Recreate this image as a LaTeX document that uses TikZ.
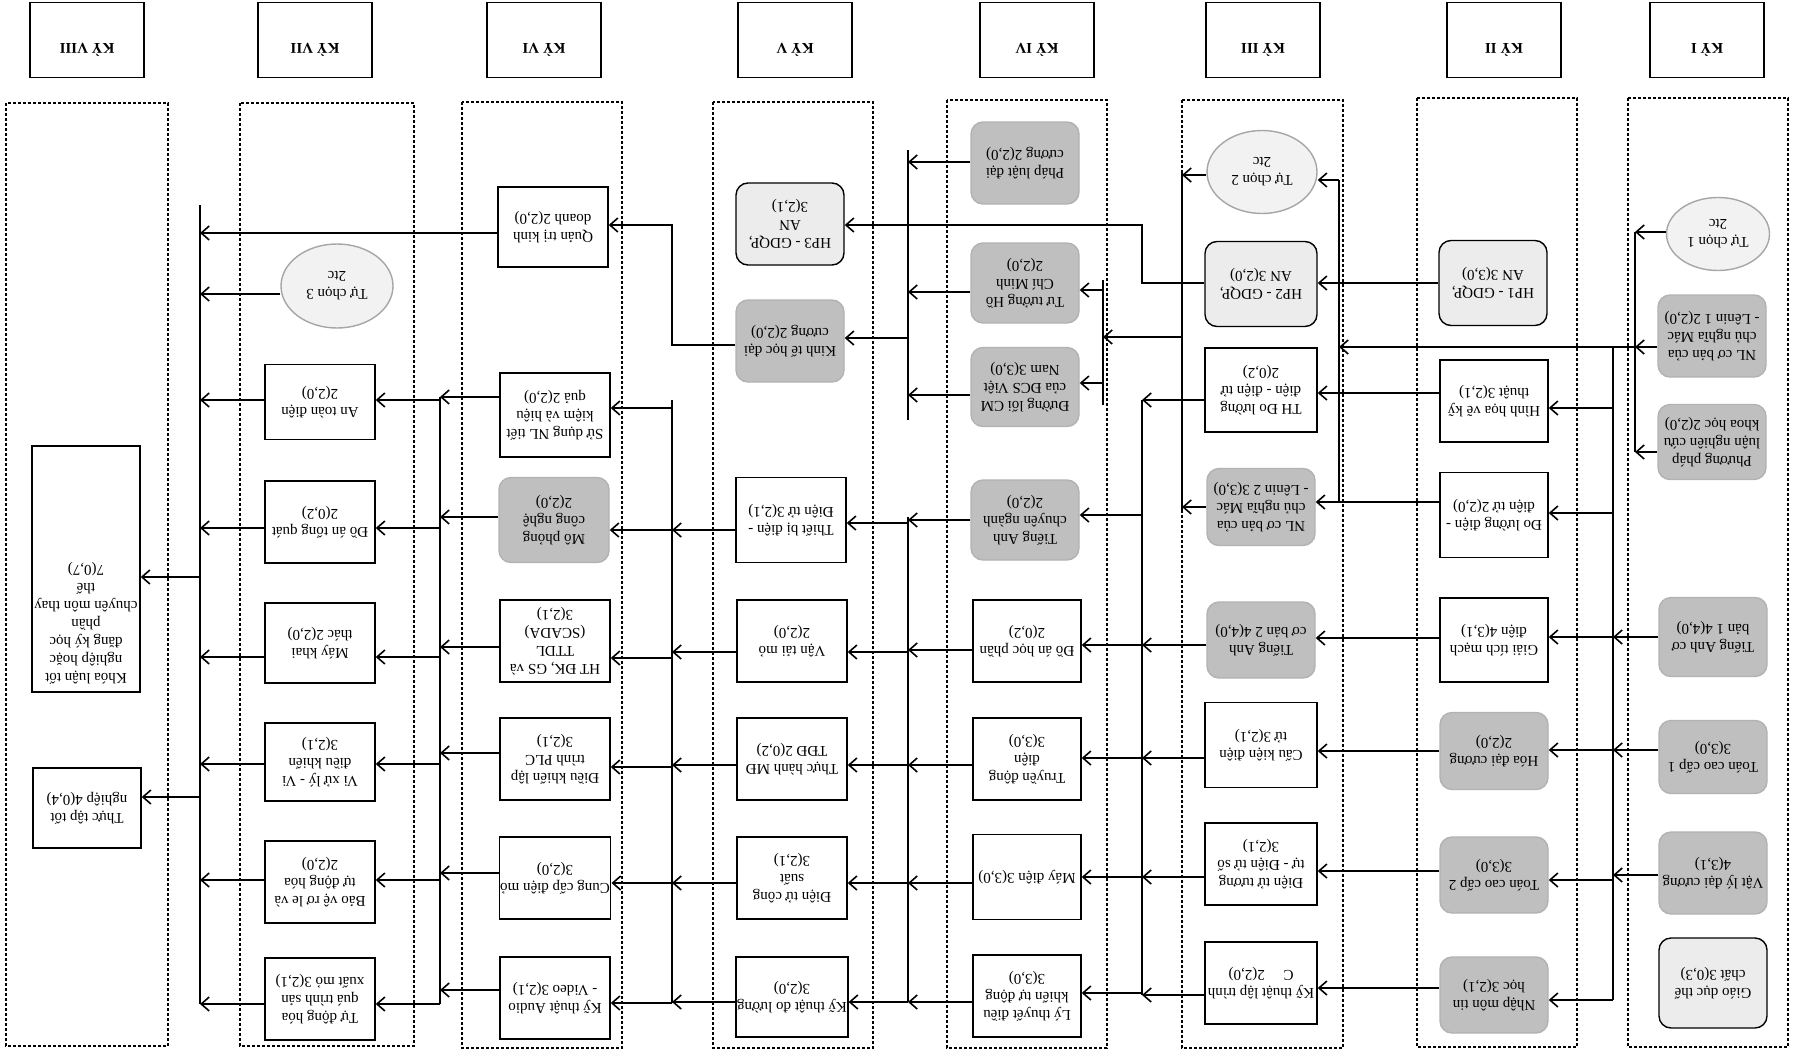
\documentclass[tikz,border=0pt]{standalone}
\usepackage{fontspec}
\setmainfont{Liberation Serif}
\usetikzlibrary{positioning, arrows.meta, shapes.geometric}

\begin{document}
\begin{tikzpicture}[
  x=0.5pt, y=-0.5pt,
  every node/.style={rotate=180, font=\fontsize{7.5}{9}\selectfont},
  course/.style={draw, line width=0.7pt, align=center, minimum width=54pt, minimum height=41pt, inner sep=0.5pt},
  plain/.style={course, fill=white},
  shaded/.style={course, draw=gray!60, fill=gray!50, rounded corners=6pt},
  light/.style={course, fill=gray!15, rounded corners=6pt},
  elective/.style={ellipse, draw=gray!70, line width=0.7pt, fill=gray!10, align=center, minimum width=54pt, minimum height=41pt, inner sep=0pt},
  term/.style={draw, line width=0.7pt, minimum width=57pt, minimum height=37.5pt, text depth=10pt, font=\bfseries\fontsize{7.5}{8}\selectfont},
  col/.style={draw, line width=0.7pt, dash pattern=on 1.5pt off 1pt},
  ln/.style={line width=0.8pt},
  arr/.style={ln, -{Straight Barb[length=4pt, width=7pt]}}
]
\useasboundingbox (0,0) rectangle (1793,1060);

% semester headings
\node[term] (h8) at (87,40) {KỲ VIII};
\node[term] (h7) at (315,40) {KỲ VII};
\node[term] (h6) at (544,40) {KỲ VI};
\node[term] (h5) at (795,40) {KỲ V};
\node[term] (h4) at (1037,40) {KỲ IV};
\node[term] (h3) at (1263,40) {KỲ III};
\node[term] (h2) at (1504,40) {KỲ II};
\node[term] (h1) at (1707,40) {KỲ I};

% semester frames
\draw[col] (6,103) rectangle (168,1046);
\draw[col] (240,103) rectangle (414,1046);
\draw[col] (462,102) rectangle (622,1048);
\draw[col] (713,102) rectangle (873,1048);
\draw[col] (947,100) rectangle (1107,1048);
\draw[col] (1182,100) rectangle (1343,1048);
\draw[col] (1417,98) rectangle (1577,1047);
\draw[col] (1628,98) rectangle (1788,1047);

% Ky I
\node[elective, minimum width=51.5pt, minimum height=36.5pt] (tc1) at (1718,234) {Tự chọn 1\\2tc};
\node[shaded] (nl1) at (1712,336) {NL cơ bản của\\chủ nghĩa Mác\\- Lênin 1 2(2,0)};
\node[shaded, minimum height=37.5pt] (ppl) at (1712,442) {Phương pháp\\luận nghiên cứu\\khoa học 2(2,0)};
\node[shaded, minimum height=39.5pt] (ta1) at (1713,637) {Tiếng Anh cơ\\bản 1 4(4,0)};
\node[shaded, minimum height=36.5pt] (toan1) at (1713,757) {Toán cao cấp 1\\3(3,0)};
\node[shaded] (vatly) at (1713,873) {Vật lý đại cương\\4(3,1)};
\node[light, minimum height=45pt] (gdtc) at (1713,983) {Giáo dục thể\\chất 3(0,3)};

% Ky II
\node[light, minimum height=42.5pt] (hp1) at (1493,283) {HP1 - GDQP,\\AN 3(3,0)};
\node[plain] (hinhhoa) at (1494,401) {Hình họa vẽ kỹ\\thuật 3(2,1)};
\node[plain, minimum height=42.5pt] (doluong) at (1494,515) {Đo lường điện -\\điện tử 2(2,0)};
\node[plain, minimum height=42pt] (giaitich) at (1494,640) {Giải tích mạch\\điện 4(3,1)};
\node[shaded, minimum height=38.5pt] (hoa) at (1494,751) {Hóa đại cương\\2(2,0)};
\node[shaded, minimum height=38pt] (toan2) at (1494,875) {Toán cao cấp 2\\3(3,0)};
\node[shaded, minimum height=38pt] (nhapmon) at (1494,995) {Nhập môn tin\\học 3(2,1)};

% Ky III
\node[elective, minimum width=55pt, minimum height=41.5pt] (tc2) at (1262,172) {Tự chọn 2\\2tc};
\node[light, minimum width=56pt, minimum height=42.5pt] (hp2) at (1261,284) {HP2 - GDQP,\\AN 3(2,0)};
\node[plain, minimum width=56pt, minimum height=42pt] (thdl) at (1261,390) {TH Đo lường\\điện - điện tử\\2(0,2)};
\node[shaded, minimum height=38.5pt] (nl2) at (1261,507) {NL cơ bản của\\chủ nghĩa Mác\\- Lênin 2 3(3,0)};
\node[shaded, minimum height=38pt] (ta2) at (1261,640) {Tiếng Anh\\cơ bản 2 4(4,0)};
\node[plain, minimum width=56pt, minimum height=42.5pt] (caukien) at (1261,745) {Cấu kiện điện\\tử 3(2,1)};
\node[plain, minimum width=56pt] (dientu) at (1261,864) {Điện tử tương\\tự - Điện tử số\\3(2,1)};
\node[plain, minimum width=56pt] (ktltc) at (1261,983) {Kỹ thuật lập trình\\C \quad 2(2,0)};

% Ky IV
\node[shaded] (phapluat) at (1025,163) {Pháp luật đại\\cương 2(2,0)};
\node[shaded, minimum height=40pt] (tutuong) at (1025,283) {Tư tưởng Hồ\\Chí Minh\\2(2,0)};
\node[shaded, minimum height=39.5pt] (duongloi) at (1025,387) {Đường lối CM\\của ĐCS Việt\\Nam 3(3,0)};
\node[shaded, minimum height=40pt] (tacn) at (1025,520) {Tiếng Anh\\chuyên ngành\\2(2,0)};
\node[plain] (doanhp) at (1027,641) {Đồ án học phần\\2(0,2)};
\node[plain] (truyendong) at (1027,759) {Truyền động\\điện\\3(3,0)};
\node[plain, minimum height=42.5pt] (maydien) at (1027,877) {Máy điện 3(3,0)};
\node[plain] (ltdk) at (1027,996) {Lý thuyết điều\\khiển tự động\\3(3,0)};

% Ky V
\node[light] (hp3) at (790,224) {HP3 - GDQP,\\AN\\3(2,1)};
\node[shaded] (kinhte) at (790,341) {Kinh tế học đại\\cương 2(2,0)};
\node[plain, minimum width=55pt, minimum height=42.5pt] (thietbi) at (791,520) {Thiết bị điện -\\Điện tử 3(2,1)};
\node[plain, minimum width=55pt] (vantai) at (792,641) {Vận tải mỏ\\2(2,0)};
\node[plain, minimum width=55pt] (thmd) at (792,759) {Thực hành MĐ\\TĐĐ 2(0,2)};
\node[plain, minimum width=55pt] (dtcs) at (792,878) {Điện tử công\\suất\\3(2,1)};
\node[plain, minimum width=55pt, minimum height=40pt] (ktdl) at (792,997) {Kỹ thuật đo lường\\3(2,0)};

% Ky VI
\node[plain, minimum width=55pt, minimum height=40pt] (qtkd) at (553,227) {Quản trị kinh\\doanh 2(2,0)};
\node[plain, minimum width=55pt, minimum height=42pt] (sdnl) at (555,415) {Sử dụng NL tiết\\kiệm và hiệu\\quả 2(2,0)};
\node[shaded, minimum width=55pt, minimum height=42.5pt] (mophong) at (554,520) {Mô phỏng\\công nghệ\\2(2,0)};
\node[plain, minimum width=55pt] (scada) at (555,641) {HT ĐK, GS và\\TTDL\\(SCADA)\\3(2,1)};
\node[plain, minimum width=55pt] (plc) at (555,759) {Điều khiển lập\\trình PLC\\3(2,1)};
\node[plain, minimum width=55pt] (ccd) at (555,878) {Cung cấp điện mỏ\\3(2,0)};
\node[plain, minimum width=55pt] (audio) at (555,998) {Kỹ thuật Audio\\- Video 3(2,1)};

% Ky VII
\node[elective, minimum width=56pt, minimum height=42pt] (tc3) at (337,286) {Tự chọn 3\\2tc};
\node[plain, minimum width=55pt, minimum height=37.5pt] (antoan) at (320,402) {An toàn điện\\2(2,0)};
\node[plain, minimum width=55pt] (doantq) at (320,522) {Đồ án tổng quát\\2(0,2)};
\node[plain, minimum width=55pt, minimum height=40pt] (maykt) at (320,643) {Máy khai\\thác 2(2,0)};
\node[plain, minimum width=55pt, minimum height=39pt] (vixuly) at (320,762) {Vi xử lý - Vi\\điều khiển\\3(2,1)};
\node[plain, minimum width=55pt] (baove) at (320,882) {Bảo vệ rơ le và\\tự động hóa\\2(2,0)};
\node[plain, minimum width=55pt] (tdh) at (320,999) {Tự động hóa\\quá trình sản\\xuất mỏ 3(2,1)};

% Ky VIII
\node[plain, minimum height=123pt] (khoaluan) at (86,569) {};
\node[align=center, anchor=north, inner sep=4pt] (khoaluantxt) at (khoaluan.north) {Khóa luận tốt\\nghiệp hoặc\\đăng ký học\\phần\\chuyên môn thay\\thế\\7(0,7)};
\node[plain, minimum height=40pt] (thuctap) at (87,808) {Thực tập tốt\\nghiệp 4(0,4)};

% bus lines
\coordinate (b1) at (1635,0);
\coordinate (b1l) at (1613,0);
\coordinate (b3r) at (1339,0);
\coordinate (b3l) at (1182,0);
\coordinate (b4s) at (1103,0);
\coordinate (b4) at (1142,0);
\coordinate (b5) at (908,0);
\coordinate (b6) at (672,0);
\coordinate (b7) at (440,0);
\coordinate (b8) at (200,0);

% Ky I -> Ky II
\draw[ln] (b1 |- 0,232) -- (b1 |- 0,452);
\draw[arr] (tc1.east |- 0,232) -- (b1 |- 0,232);
\draw[arr] (nl1.east |- 0,347) -- (b1 |- 0,347);
\draw[arr] (ppl.east |- 0,452) -- (b1 |- 0,452);
\draw[arr] (b1 |- 0,347) -- (b3r |- 0,347);
\draw[ln] (b1l |- 0,347) -- (b1l |- 0,1000);
\draw[arr] (ta1.east |- 0,637) -- (b1l |- 0,637);
\draw[arr] (toan1.east |- 0,750) -- (b1l |- 0,750);
\draw[arr] (vatly.east |- 0,875) -- (b1l |- 0,875);
\draw[arr] (b1l |- 0,408) -- (hinhhoa.west |- 0,408);
\draw[arr] (b1l |- 0,513) -- (doluong.west |- 0,513);
\draw[arr] (b1l |- 0,637) -- (giaitich.west |- 0,637);
\draw[arr] (b1l |- 0,750) -- (hoa.west |- 0,750);
\draw[arr] (b1l |- 0,880) -- (toan2.west |- 0,880);
\draw[arr] (b1l |- 0,1000) -- (nhapmon.west |- 0,1000);

% Ky II -> Ky III
\draw[arr] (hp1.east |- 0,283) -- (hp2.west |- 0,283);
\draw[arr] (hinhhoa.east |- 0,393) -- (thdl.west |- 0,393);
\draw[ln] (doluong.east |- 0,502) -- (b3r |- 0,502);
\draw[ln] (b3r |- 0,180) -- (b3r |- 0,502);
\draw[arr] (b3r |- 0,180) -- (tc2.west |- 0,180);
\draw[arr] (b3r |- 0,502) -- (nl2.west |- 0,502);
\draw[arr] (giaitich.east |- 0,638) -- (ta2.west |- 0,638);
\draw[arr] (hoa.east |- 0,751) -- (caukien.west |- 0,751);
\draw[arr] (toan2.east |- 0,871) -- (dientu.west |- 0,871);
\draw[arr] (nhapmon.east |- 0,988) -- (ktltc.west |- 0,988);

% Ky III -> Ky IV
\draw[ln] (b3l |- 0,173) -- (b3l |- 0,512);
\draw[arr] (tc2.east |- 0,175) -- (b3l |- 0,175);
\draw[arr] (nl2.east |- 0,507) -- (b3l |- 0,507);
\draw[arr] (b3l |- 0,337) -- (b4s |- 0,337);
\draw[ln] (b4s |- 0,280) -- (b4s |- 0,405);
\draw[arr] (b4s |- 0,290) -- (tutuong.west |- 0,290);
\draw[arr] (b4s |- 0,383) -- (duongloi.west |- 0,383);
\draw[arr] (hp2.east |- 0,283) -- (b4 |- 0,283) -- (b4 |- 0,225) -- (hp3.west |- 0,225);
\draw[ln] (b4 |- 0,400) -- (b4 |- 0,995);
\draw[arr] (thdl.east |- 0,400) -- (b4 |- 0,400);
\draw[arr] (ta2.east |- 0,645) -- (b4 |- 0,645);
\draw[arr] (caukien.east |- 0,758) -- (b4 |- 0,758);
\draw[arr] (dientu.east |- 0,877) -- (b4 |- 0,877);
\draw[arr] (ktltc.east |- 0,995) -- (b4 |- 0,995);
\draw[arr] (b4 |- 0,515) -- (tacn.west |- 0,515);
\draw[arr] (b4 |- 0,645) -- (doanhp.west |- 0,645);
\draw[arr] (b4 |- 0,758) -- (truyendong.west |- 0,758);
\draw[arr] (b4 |- 0,877) -- (maydien.west |- 0,877);
\draw[arr] (b4 |- 0,993) -- (ltdk.west |- 0,993);

% Ky IV -> Ky V
\draw[ln] (b5 |- 0,150) -- (b5 |- 0,420);
\draw[arr] (phapluat.east |- 0,162) -- (b5 |- 0,162);
\draw[arr] (tutuong.east |- 0,292) -- (b5 |- 0,292);
\draw[arr] (duongloi.east |- 0,395) -- (b5 |- 0,395);
\draw[arr] (b5 |- 0,338) -- (kinhte.west |- 0,338);
\draw[ln] (b5 |- 0,517) -- (b5 |- 0,1002);
\draw[arr] (tacn.east |- 0,520) -- (b5 |- 0,520);
\draw[arr] (doanhp.east |- 0,650) -- (b5 |- 0,650);
\draw[arr] (truyendong.east |- 0,765) -- (b5 |- 0,765);
\draw[arr] (maydien.east |- 0,883) -- (b5 |- 0,883);
\draw[arr] (ltdk.east |- 0,1002) -- (b5 |- 0,1002);
\draw[arr] (b5 |- 0,523) -- (thietbi.west |- 0,523);
\draw[arr] (b5 |- 0,652) -- (vantai.west |- 0,652);
\draw[arr] (b5 |- 0,765) -- (thmd.west |- 0,765);
\draw[arr] (b5 |- 0,883) -- (dtcs.west |- 0,883);
\draw[arr] (b5 |- 0,1002) -- (ktdl.west |- 0,1002);

% Ky V -> Ky VI
\draw[arr] (kinhte.east |- 0,345) -- (b6 |- 0,345) -- (b6 |- 0,225) -- (qtkd.west |- 0,225);
\draw[ln] (b6 |- 0,400) -- (b6 |- 0,1003);
\draw[arr] (thietbi.east |- 0,530) -- (b6 |- 0,530);
\draw[arr] (vantai.east |- 0,652) -- (b6 |- 0,652);
\draw[arr] (thmd.east |- 0,765) -- (b6 |- 0,765);
\draw[arr] (dtcs.east |- 0,883) -- (b6 |- 0,883);
\draw[arr] (ktdl.east |- 0,1002) -- (b6 |- 0,1002);
\draw[arr] (b6 |- 0,408) -- (sdnl.west |- 0,408);
\draw[arr] (b6 |- 0,530) -- (mophong.west |- 0,530);
\draw[arr] (b6 |- 0,658) -- (scada.west |- 0,658);
\draw[arr] (b6 |- 0,767) -- (plc.west |- 0,767);
\draw[arr] (b6 |- 0,883) -- (ccd.west |- 0,883);
\draw[arr] (b6 |- 0,1003) -- (audio.west |- 0,1003);

% Ky VI -> Ky VII
\draw[arr] (qtkd.east |- 0,233) -- (b8 |- 0,233);
\draw[ln] (b7 |- 0,397) -- (b7 |- 0,1004);
\draw[arr] (sdnl.east |- 0,397) -- (b7 |- 0,397);
\draw[arr] (mophong.east |- 0,517) -- (b7 |- 0,517);
\draw[arr] (scada.east |- 0,647) -- (b7 |- 0,647);
\draw[arr] (plc.east |- 0,753) -- (b7 |- 0,753);
\draw[arr] (ccd.east |- 0,873) -- (b7 |- 0,873);
\draw[arr] (audio.east |- 0,990) -- (b7 |- 0,990);
\draw[arr] (b7 |- 0,400) -- (antoan.west |- 0,400);
\draw[arr] (b7 |- 0,528) -- (doantq.west |- 0,528);
\draw[arr] (b7 |- 0,657) -- (maykt.west |- 0,657);
\draw[arr] (b7 |- 0,764) -- (vixuly.west |- 0,764);
\draw[arr] (b7 |- 0,880) -- (baove.west |- 0,880);
\draw[arr] (b7 |- 0,1004) -- (tdh.west |- 0,1004);

% Ky VII -> Ky VIII
\draw[ln] (b8 |- 0,205) -- (b8 |- 0,1004);
\draw[arr] (tc3.east |- 0,294) -- (b8 |- 0,294);
\draw[arr] (antoan.east |- 0,400) -- (b8 |- 0,400);
\draw[arr] (doantq.east |- 0,528) -- (b8 |- 0,528);
\draw[arr] (maykt.east |- 0,657) -- (b8 |- 0,657);
\draw[arr] (vixuly.east |- 0,764) -- (b8 |- 0,764);
\draw[arr] (baove.east |- 0,880) -- (b8 |- 0,880);
\draw[arr] (tdh.east |- 0,1004) -- (b8 |- 0,1004);
\draw[arr] (b8 |- 0,577) -- (khoaluan.west |- 0,577);
\draw[arr] (b8 |- 0,797) -- (thuctap.west |- 0,797);
\end{tikzpicture}
\end{document}
